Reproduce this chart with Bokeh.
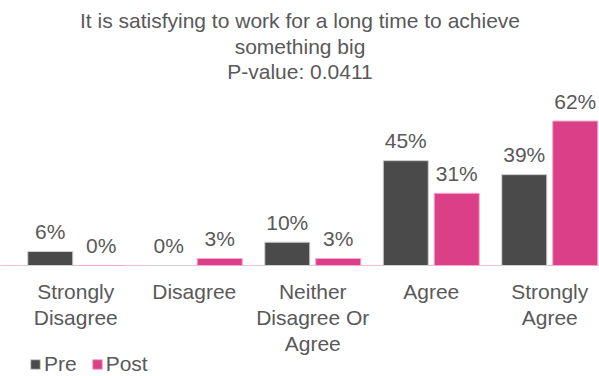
from bokeh.plotting import figure
from bokeh.models import ColumnDataSource, Range1d, Label, Legend, LegendItem
from bokeh.embed import file_html
from bokeh.resources import INLINE
from bokeh.core.properties import value

categories = ["Strongly\nDisagree", "Disagree", "Neither\nDisagree Or\nAgree", "Agree", "Strongly\nAgree"]
pre = [6, 0, 10, 45, 39]
post = [0, 3, 3, 31, 62]
series_names = ["Pre", "Post"]
title_lines = ["It is satisfying to work for a long time to achieve", "something big", "P-value: 0.0411"]

PRE_COLOR = "#4a4a4a"
POST_COLOR = "#db3f87"
TEXT_COLOR = "#595959"
FONT = "Liberation Sans"
FS = "21px"

W, H = 599, 376
x0_px, step_px = 16, 118.5
base_px, scale = 265, 2.33

p = figure(width=W, height=H, output_backend="svg", toolbar_location=None,
           min_border=0, min_border_left=0, min_border_right=0, min_border_top=0, min_border_bottom=0,
           x_range=Range1d(-0.5 - x0_px / step_px, (W - x0_px) / step_px - 0.5),
           y_range=Range1d(-(H - base_px) / scale, base_px / scale))
p.xaxis.visible = False
p.yaxis.visible = False
p.grid.visible = False
p.outline_line_color = None
p.background_fill_color = "white"
p.border_fill_color = "white"

xs = list(range(len(categories)))
off = 0.215
bw = 0.38
src = ColumnDataSource(dict(
    x=xs,
    xpre=[x - off for x in xs],
    xpost=[x + off for x in xs],
    pre=pre, post=post,
    pre_lbl=[f"{v}%" for v in pre],
    post_lbl=[f"{v}%" for v in post],
    cat=categories,
))

# baseline
p.segment(x0=[-1], x1=[6], y0=[0], y1=[0], line_color="#f5bcd6", line_width=1.2)

r_pre = p.vbar(x="xpre", top="pre", width=bw, source=src, fill_color=PRE_COLOR,
               line_color="#d0d0d0", line_width=1)
r_post = p.vbar(x="xpost", top="post", width=bw, source=src, fill_color=POST_COLOR,
                line_color="#f2a9ca", line_width=1)

common = dict(text_font=value(FONT), text_font_size=FS, text_color=TEXT_COLOR,
              text_align="center", text_baseline="middle")
p.text(x="xpre", y="pre", text="pre_lbl", source=src, y_offset=-20, **common)
p.text(x="xpost", y="post", text="post_lbl", source=src, y_offset=-20, **common)

# category labels
p.text(x="x", y=0, text="cat", source=src, y_offset=14, text_font=value(FONT),
       text_font_size=FS, text_color=TEXT_COLOR, text_align="center",
       text_baseline="top", text_line_height=1.14)

# title
for i, t in enumerate(title_lines):
    p.add_layout(Label(x=W / 2, y=H - 20 - 25.5 * i, x_units="screen", y_units="screen", text=t,
                       text_font=FONT, text_font_size=FS, text_color=TEXT_COLOR,
                       text_align="center", text_baseline="middle"))

legend = Legend(items=[LegendItem(label=series_names[0], renderers=[r_pre]),
                       LegendItem(label=series_names[1], renderers=[r_post])],
                location=(29, 0), orientation="horizontal",
                glyph_width=12, glyph_height=12, label_standoff=3, spacing=14,
                padding=0, margin=0, border_line_color=None, background_fill_alpha=0,
                label_text_font=FONT, label_text_font_size=FS, label_text_color=TEXT_COLOR,
                label_height=22)
p.add_layout(legend, "center")

open("out.html", "w").write(file_html(p, INLINE))
